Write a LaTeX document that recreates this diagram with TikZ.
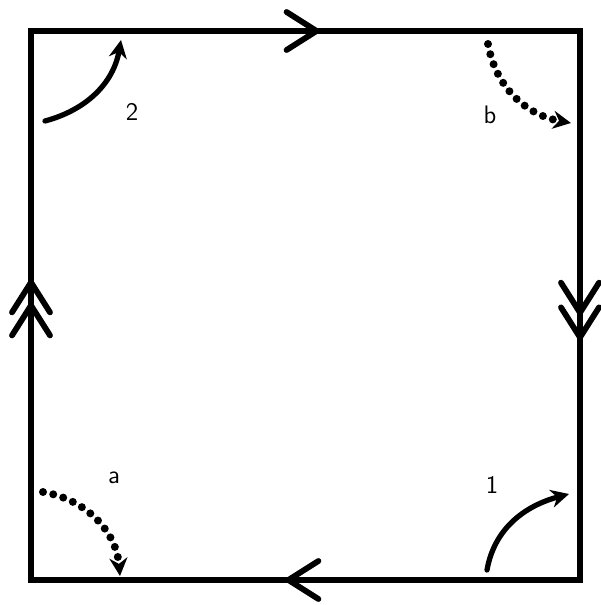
\documentclass[tikz,border=0pt]{standalone}
\usetikzlibrary{arrows.meta,decorations.markings}

\tikzset{
  side/.style={line width=3.3pt, line cap=rect},
  barb/.tip={Straight Barb[length=0.6cm, width=0.76cm, line cap=round]},
  turn/.style={line width=3pt, line cap=round, -{Stealth[length=0.36cm, width=0.36cm]}},
  dots/.style={line width=0.16cm, line cap=round, dash pattern=on 0pt off 0.21cm,
               -{Stealth[length=0.36cm, width=0.36cm]}},
  lab/.style={font=\sffamily\Large}
}

\begin{document}
\begin{tikzpicture}
\useasboundingbox (0,0) rectangle (12,12.1);

   \coordinate (TL) at (0.62,11.48);
   \coordinate (TR) at (11.6,11.48);
   \coordinate (BR) at (11.6,0.5);
   \coordinate (BL) at (0.62,0.5);

   % sides of the square with their arrows
   \draw[side, postaction={decorate}, decoration={markings,
         mark=at position 0.53 with {\arrow{barb}}}] (TL) -- (TR);
   \draw[side, postaction={decorate}, decoration={markings,
         mark=at position 0.523 with {\arrow{barb}},
         mark=at position 0.568 with {\arrow{barb}}}] (TR) -- (BR);
   \draw[side, postaction={decorate}, decoration={markings,
         mark=at position 0.541 with {\arrow{barb}}}] (BR) -- (BL);
   \draw[side, postaction={decorate}, decoration={markings,
         mark=at position 0.51 with {\arrow{barb}},
         mark=at position 0.552 with {\arrow{barb}}}] (BL) -- (TL);

   % corner turns
   \coordinate (s2) at (0.9,9.68);
   \coordinate (e2) at (2.42,11.3);
   \coordinate (sb) at (9.76,11.22);
   \coordinate (eb) at (11.42,9.64);
   \coordinate (sa) at (0.86,2.26);
   \coordinate (ea) at (2.4,0.58);
   \coordinate (s1) at (9.74,0.7);
   \coordinate (e1) at (11.38,2.22);

   \draw[turn] (s2) to[out=15, in=-100] (e2);
   \draw[dots] (sb) to[out=-80, in=170] (eb);
   \draw[dots] (sa) to[out=-10, in=95] (ea);
   \draw[turn] (s1) to[out=80, in=195] (e1);

   \node[lab] (L2) at (2.64,9.86) {2};
   \node[lab] (Lb) at (9.8,9.8) {b};
   \node[lab] (La) at (2.28,2.54) {a};
   \node[lab] (L1) at (9.84,2.4) {1};

\end{tikzpicture}
\end{document}
